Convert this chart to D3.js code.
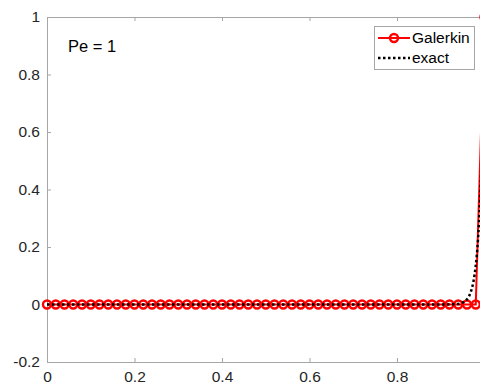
<!DOCTYPE html>
<html>
<head>
<meta charset="utf-8">
<style>
  body { margin: 0; background: #fff; }
  svg { display: block; font-family: Arial, Helvetica, "Liberation Sans", sans-serif; }
</style>
</head>
<body>
<div id="chart"></div>
<script src="https://d3js.org/d3.v7.min.js"></script>
<script>
// data
var galerkinX = [0, 0.02, 0.04, 0.06, 0.08, 0.1, 0.12, 0.14, 0.16, 0.18,
                 0.2, 0.22, 0.24, 0.26, 0.28, 0.3, 0.32, 0.34, 0.36, 0.38,
                 0.4, 0.42, 0.44, 0.46, 0.48, 0.5, 0.52, 0.54, 0.56, 0.58,
                 0.6, 0.62, 0.64, 0.66, 0.68, 0.7, 0.72, 0.74, 0.76, 0.78,
                 0.8, 0.82, 0.84, 0.86, 0.88, 0.9, 0.92, 0.94, 0.96, 0.98, 1];
var galerkinY = [0, 0, 0, 0, 0, 0, 0, 0, 0, 0,
                 0, 0, 0, 0, 0, 0, 0, 0, 0, 0,
                 0, 0, 0, 0, 0, 0, 0, 0, 0, 0,
                 0, 0, 0, 0, 0, 0, 0, 0, 0, 0,
                 0, 0, 0, 0, 0, 0, 0, 0, 0, 0, 1];
var exactX = [0, 0.9, 0.93, 0.94, 0.95, 0.955, 0.96, 0.965, 0.97, 0.975, 0.98, 0.985, 0.99, 0.995, 1];
var exactY = [0, 0, 0.001, 0.002, 0.007, 0.011, 0.018, 0.03, 0.05, 0.082, 0.135, 0.223, 0.368, 0.607, 1];
// x = 1 falls just past the right edge of the window, so only these show
var xTicks = [0, 0.2, 0.4, 0.6, 0.8];
var yTicks = [-0.2, 0, 0.2, 0.4, 0.6, 0.8, 1];
var seriesNames = ["Galerkin", "exact"];

var W = 480, H = 387;
var margin = {top: 17, left: 47, bottom: 25};
var plotW = 437.5;
var plotH = H - margin.top - margin.bottom;

var axisCol = "#a6a6a6", textCol = "#262626";

var svg = d3.select("#chart").append("svg")
    .attr("width", W)
    .attr("height", H);

var x = d3.scaleLinear().domain([0, 1]).range([margin.left, margin.left + plotW]);
var y = d3.scaleLinear().domain([-0.2, 1]).range([margin.top + plotH, margin.top]);

var fmt = function(d) { return String(+d.toFixed(1)); };

// axes (ticks inward, box on top/bottom/left)
var gx = svg.append("g")
    .attr("transform", "translate(0," + y(-0.2) + ")")
    .call(d3.axisBottom(x).tickValues(xTicks).tickFormat(fmt).tickSizeInner(-4).tickSizeOuter(0).tickPadding(9));
var gxt = svg.append("g")
    .attr("transform", "translate(0," + y(1) + ")")
    .call(d3.axisTop(x).tickValues(xTicks).tickFormat("").tickSizeInner(-4).tickSizeOuter(0));
var gy = svg.append("g")
    .attr("transform", "translate(" + x(0) + ",0)")
    .call(d3.axisLeft(y).tickValues(yTicks).tickFormat(fmt).tickSizeInner(-4).tickSizeOuter(0).tickPadding(7));

[gx, gxt, gy].forEach(function(g) {
  g.select(".domain").attr("stroke", axisCol).attr("stroke-width", 1);
  g.selectAll(".tick line").attr("stroke", axisCol);
  g.selectAll(".tick text").attr("fill", textCol).style("font-size", "15.5px");
});

// Galerkin
var galData = galerkinX.map(function(d, i) { return [d, galerkinY[i]]; });
var line = d3.line().x(function(d) { return x(d[0]); }).y(function(d) { return y(d[1]); });

svg.append("path")
    .datum(galData)
    .attr("d", line)
    .attr("fill", "none")
    .attr("stroke", "#ff0000")
    .attr("stroke-width", 2);

svg.append("g").selectAll("circle")
    .data(galData)
    .enter().append("circle")
      .attr("cx", function(d) { return x(d[0]); })
      .attr("cy", function(d) { return y(d[1]); })
      .attr("r", 4)
      .attr("fill", "none")
      .attr("stroke", "#ff0000")
      .attr("stroke-width", 2.4);

// exact
var exData = exactX.map(function(d, i) { return [d, exactY[i]]; });
svg.append("path")
    .datum(exData)
    .attr("d", line.curve(d3.curveMonotoneX))
    .attr("fill", "none")
    .attr("stroke", "#000")
    .attr("stroke-width", 2.5)
    .attr("stroke-dasharray", "2.5,2.5");

// annotation
svg.append("text")
    .attr("x", 68)
    .attr("y", 52)
    .attr("fill", "#000")
    .style("font-size", "16.5px")
    .text("Pe = 1");

// legend
var lg = svg.append("g");
lg.append("rect")
    .attr("x", 374.5).attr("y", 26.5)
    .attr("width", 100).attr("height", 43)
    .attr("fill", "#fff")
    .attr("stroke", axisCol);

lg.append("line")
    .attr("x1", 378).attr("x2", 410).attr("y1", 38).attr("y2", 38)
    .attr("stroke", "#ff0000").attr("stroke-width", 2);
lg.append("circle")
    .attr("cx", 394).attr("cy", 38).attr("r", 4)
    .attr("fill", "none").attr("stroke", "#ff0000").attr("stroke-width", 2.4);
lg.append("line")
    .attr("x1", 378).attr("x2", 410).attr("y1", 58).attr("y2", 58)
    .attr("stroke", "#000").attr("stroke-width", 2.5)
    .attr("stroke-dasharray", "2.5,2.5");

lg.selectAll("text.lab")
    .data(seriesNames)
    .enter().append("text")
      .attr("class", "lab")
      .attr("x", 412)
      .attr("y", function(d, i) { return 38 + i * 20; })
      .attr("dy", "0.35em")
      .attr("fill", "#000")
      .style("font-size", "15.5px")
      .text(function(d) { return d; });
</script>
</body>
</html>
